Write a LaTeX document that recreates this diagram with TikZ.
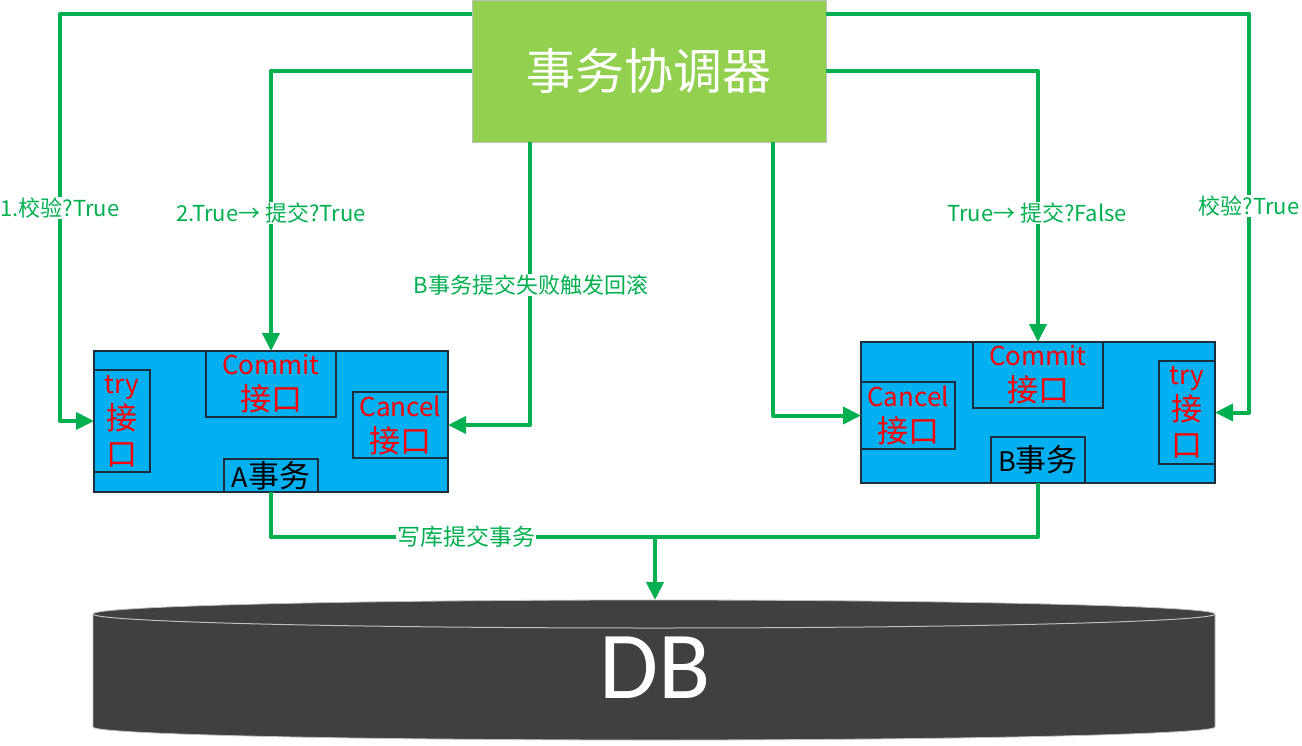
\documentclass[tikz,border=0pt]{standalone}
\usepackage{fontspec}
\setmainfont{Noto Sans CJK SC}
\newfontfamily\dbfont{Carlito}
\usetikzlibrary{arrows.meta,calc}
\definecolor{cgreen}{RGB}{0,176,80}
\definecolor{tgreen}{RGB}{146,208,80}
\definecolor{tedge}{RGB}{191,191,191}
\definecolor{cblue}{RGB}{0,176,240}
\definecolor{cedge}{RGB}{28,46,60}
\definecolor{dbgray}{RGB}{64,64,64}
\definecolor{cred}{RGB}{255,0,0}
\newcommand\zhbig[1]{{\fontsize{31}{36}\selectfont #1}}
\begin{document}
\begin{tikzpicture}[x=1pt,y=-1pt,
  conn/.style={draw=cgreen,line width=4pt,line join=round},
  arr/.style={-{Triangle[length=18pt,width=17pt]}},
  lbl/.style={fill=white,text=cgreen,inner sep=1pt,font=\fontsize{22}{26}\selectfont},
  panel/.style={draw=cedge,fill=cblue,line width=1.2pt,anchor=north west,inner sep=0pt,outer sep=0pt},
  iface/.style={panel,text=cred,align=center,font=\fontsize{26}{36}\selectfont},
  txbox/.style={panel,text=black,font=\fontsize{27}{34}\selectfont}]
\useasboundingbox (0,0) rectangle (1302,745);
\fill[white] (0,0) rectangle (1302,745);

% coordinator
\node[draw=tedge,fill=tgreen,anchor=north west,minimum width=354pt,minimum height=142pt,
      inner sep=0pt,outer sep=0pt,text=white,font=\fontsize{49}{56}\selectfont] (coord) at (472,0) {事务协调器};

% transaction A
\node[panel,minimum width=354pt,minimum height=141pt] (boxA) at (94,351) {};
\node[iface,minimum width=56pt,minimum height=102pt] (tryA) at (94,370) {try\\\zhbig{接}\\\zhbig{口}};
\node[iface,minimum width=130pt,minimum height=66pt] (commitA) at (206,351) {Commit\\\zhbig{接口}};
\node[iface,minimum width=95pt,minimum height=66pt] (cancelA) at (353,392) {Cancel\\\zhbig{接口}};
\node[txbox,minimum width=94pt,minimum height=33pt] (txA) at (224,459) {A\zhbig{事务}};

% transaction B
\node[panel,minimum width=354pt,minimum height=141pt] (boxB) at (861,342) {};
\node[iface,minimum width=94pt,minimum height=67pt] (cancelB) at (861,382) {Cancel\\\zhbig{接口}};
\node[iface,minimum width=130pt,minimum height=66pt] (commitB) at (973,342) {Commit\\\zhbig{接口}};
\node[iface,minimum width=56pt,minimum height=103pt] (tryB) at (1159,361) {try\\\zhbig{接}\\\zhbig{口}};
\node[txbox,minimum width=94pt,minimum height=46pt] (txB) at (991,437) {B\zhbig{事务}};

% database cylinder
\filldraw[fill=dbgray,draw=tedge,line width=0.8pt]
  (93,614) -- (93,727) arc[start angle=180,end angle=0,x radius=561,y radius=13]
  -- (1215,614) arc[start angle=0,end angle=-180,x radius=561,y radius=14] -- cycle;
\draw[draw=tedge,line width=1pt] (93,614) arc[start angle=180,end angle=0,x radius=561,y radius=14];
\node[text=white,font=\dbfont\fontsize{96}{100}\selectfont,inner sep=0pt] (db) at (655,668) {DB};
\coordinate (dbtop) at (655,600);
\coordinate (dbjoin) at (655,537);

% connectors
\draw[conn,arr] ($(coord.north west)+(0,14)$) -| (60,300) |- (tryA.west);
\node[lbl] at (60,208) {1.校验?True};

\draw[conn,arr] ($(coord.north west)+(0,71)$) -| (commitA.north);
\node[lbl] at (271,213) {2.True→ 提交?True};

\draw[conn,arr] ($(coord.south west)+(58,0)$) |- (cancelA.east);
\node[lbl] at (531,285) {B事务提交失败触发回滚};

\draw[conn,arr] ($(coord.south west)+(301,0)$) |- (cancelB.west);

\draw[conn,arr] ($(coord.north east)+(0,71)$) -| (commitB.north);
\node[lbl] at (1037,213) {True→ 提交?False};

\draw[conn,arr] ($(coord.north east)+(0,14)$) -| (1249,300) |- (tryB.east);
\node[lbl] at (1249,206) {校验?True};

\draw[conn] (txA.south) |- (dbjoin);
\draw[conn] (txB.south) |- (dbjoin);
\draw[conn,arr] (dbjoin) -- (dbtop);
\node[lbl,font=\fontsize{23}{27}\selectfont] at (466,537) {写库提交事务};
\end{tikzpicture}
\end{document}
